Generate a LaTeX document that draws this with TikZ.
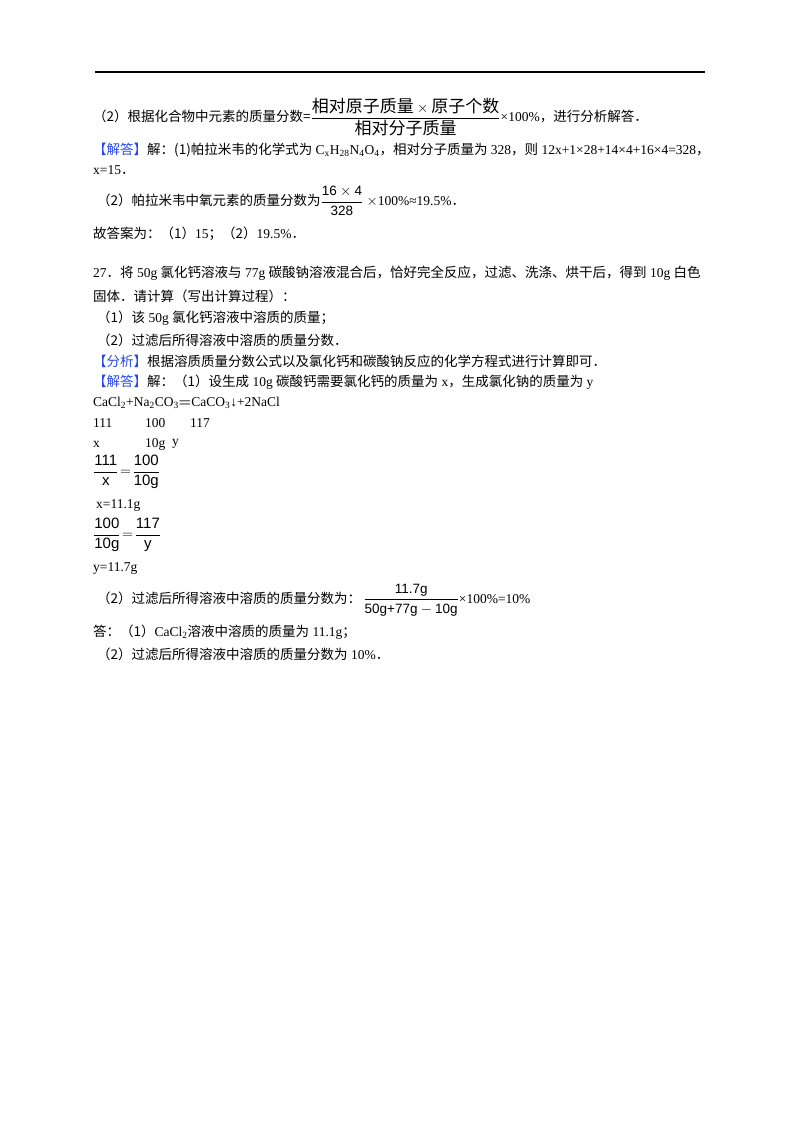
\documentclass[tikz,border=0pt]{standalone}
\usepackage{fontspec}
\usepackage{amsmath}
\setmainfont{Liberation Serif}
\newfontfamily\cjk{Noto Sans CJK SC}
\newfontfamily\fsans{Liberation Sans}
\newcommand\zh[1]{{\cjk #1}}
\newcommand\fs[1]{\text{\fsans #1}}
\newcommand\fz[1]{\text{\fontsize{17}{18}\selectfont\cjk #1}}
\definecolor{tagblue}{RGB}{40,70,235}
\newcommand\btag[1]{{\cjk\color{tagblue}【#1】}}
\begin{document}
\begin{tikzpicture}[x=1pt,y=-1pt,
  ln/.style={anchor=west,inner sep=0pt,font=\fontsize{13.5}{16}\selectfont}]
\useasboundingbox (0,0) rectangle (800,1132);
\draw[line width=1.2pt] (95,72) -- (705,72);
\node[ln] (l1) at (93,117) {\zh{（2）根据化合物中元素的质量分数=}$\dfrac{\fz{相对原子质量}\times\fz{原子个数}}{\fz{相对分子质量}}$×100\%\zh{，进行分析解答．}};
\node[ln] (l2) at (93,150) {\btag{解答}\zh{解：(1)帕拉米韦的化学式为} C\textsubscript{x}H\textsubscript{28}N\textsubscript{4}O\textsubscript{4}\zh{，相对分子质量为} 328\zh{，则} 12x+1×28+14×4+16×4=328\zh{，}};
\node[ln] (l3) at (93,170) {x=15\zh{．}};
\node[ln] (l4) at (97,201) {\zh{（2）帕拉米韦中氧元素的质量分数为}$\dfrac{\fs{16}\times\fs{4}}{\fs{328}}$ $\times$100\%≈19.5\%\zh{．}};
\node[ln] (l5) at (93,234) {\zh{故答案为：（1）}15\zh{；（2）}19.5\%\zh{．}};
\node[ln] (q1) at (93,273) {27\zh{．}\zh{将} 50g \zh{氯化钙溶液与} 77g \zh{碳酸钠溶液混合后，恰好完全反应，过滤、洗涤、烘干后，得到} 10g \zh{白色}};
\node[ln] (q2) at (93,296) {\zh{固体．请计算（写出计算过程）：}};
\node[ln] (q3) at (97,318) {\zh{（1）该} 50g \zh{氯化钙溶液中溶质的质量；}};
\node[ln] (q4) at (97,340) {\zh{（2）过滤后所得溶液中溶质的质量分数．}};
\node[ln] (q5) at (93,361) {\btag{分析}\zh{根据溶质质量分数公式以及氯化钙和碳酸钠反应的化学方程式进行计算即可．}};
\node[ln] (q6) at (93,382) {\btag{解答}\zh{解：（1）设生成} 10g \zh{碳酸钙需要氯化钙的质量为} x\zh{，生成氯化钠的质量为} y};
\node[ln] (e1) at (93,403) {CaCl\textsubscript{2}+Na\textsubscript{2}CO\textsubscript{3}$\boldsymbol{=}$CaCO\textsubscript{3}↓+2NaCl};
\node[ln] (e2) at (93,423) {111};
\node[ln] (e3) at (145,423) {100};
\node[ln] (e4) at (190,423) {117};
\node[ln] (e5) at (93,444) {x};
\node[ln] (e6) at (145,444) {10g};
\node[ln] (e7) at (172,444) {y};
\node[ln,font=\fontsize{15}{17}\selectfont] (f1) at (93,472) {$\dfrac{\fs{111}}{\fs{x}}\!=\!\dfrac{\fs{100}}{\fs{10g}}$};
\node[ln] (f2) at (96,505) {x=11.1g};
\node[ln,font=\fontsize{15}{17}\selectfont] (f3) at (93,535) {$\dfrac{\fs{100}}{\fs{10g}}\!=\!\dfrac{\fs{117}}{\fs{y}}$};
\node[ln] (f4) at (93,568) {y=11.7g};
\node[ln] (f5) at (97,600) {\zh{（2）过滤后所得溶液中溶质的质量分数为：}\,$\dfrac{\fs{11.7g}}{\fs{50g+77g}-\fs{10g}}$×100\%=10\%};
\node[ln] (a1) at (93,632) {\zh{答：（1）}CaCl\textsubscript{2}\zh{溶液中溶质的质量为} 11.1g\zh{；}};
\node[ln] (a2) at (97,654) {\zh{（2）过滤后所得溶液中溶质的质量分数为} 10\%\zh{．}};
\end{tikzpicture}
\end{document}
